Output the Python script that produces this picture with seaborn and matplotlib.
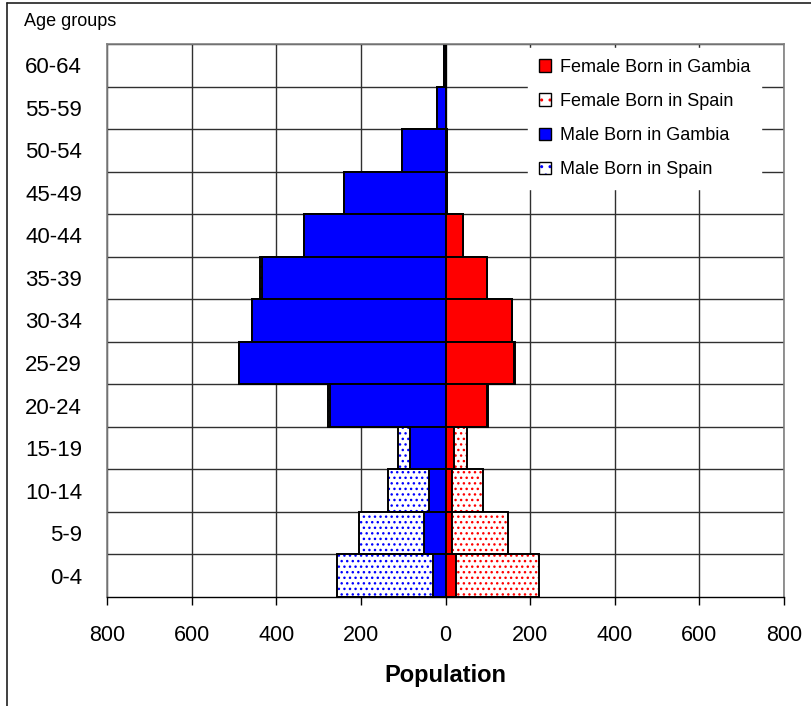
import matplotlib
matplotlib.use('Agg')
import matplotlib.pyplot as plt
import matplotlib.patches as mpatches
from matplotlib.legend_handler import HandlerTuple
from matplotlib.lines import Line2D
import numpy as np
import pandas as pd
import seaborn as sns

# Age groups, bottom to top
ages = ["0-4", "5-9", "10-14", "15-19", "20-24", "25-29", "30-34",
        "35-39", "40-44", "45-49", "50-54", "55-59", "60-64"]
male_gambia = [29, 50, 39, 84, 274, 487, 457, 434, 334, 240, 102, 20, 3]
male_spain = [227, 154, 97, 29, 3, 0, 0, 5, 0, 0, 0, 0, 0]
female_gambia = [25, 16, 16, 20, 99, 162, 157, 98, 41, 4, 4, 1, 2]
female_spain = [196, 132, 73, 30, 1, 3, 1, 0, 0, 0, 0, 0, 0]

x_ticks = [-800, -600, -400, -200, 0, 200, 400, 600, 800]

sns.set_style("white")
plt.rcParams['font.family'] = ['Liberation Sans', 'DejaVu Sans']
plt.rcParams['hatch.linewidth'] = 1.0
for key in ['text.color', 'axes.labelcolor', 'xtick.color', 'ytick.color']:
    plt.rcParams[key] = 'black'

df = pd.DataFrame({
    "age": ages,
    "male_gambia": -np.array(male_gambia),
    "male_total": -(np.array(male_gambia) + np.array(male_spain)),
    "female_gambia": np.array(female_gambia),
    "female_total": np.array(female_gambia) + np.array(female_spain),
})
order = ages[::-1]

fig = plt.figure(figsize=(8.11, 7.06), dpi=100)
ax = fig.add_axes([107 / 811, 109 / 706, 677 / 811, 553 / 706])

BLUE = "#0000ff"
RED = "#ff0000"
EDGE_LW = 1.4
HATCH = "..."


def bars(col, **kws):
    sns.barplot(data=df, x=col, y="age", order=order, orient="h", width=1,
                errorbar=None, saturation=1, ax=ax, **kws)


# stacked: total (born in Spain part, dotted) underneath, Gambia on top
for total_col, gam_col, c in [("male_total", "male_gambia", BLUE),
                              ("female_total", "female_gambia", RED)]:
    bars(total_col, color="white", edgecolor=c, linewidth=0, hatch=HATCH)
    bars(total_col, fill=False, color="black", linewidth=EDGE_LW)
    bars(gam_col, color=c, edgecolor="black", linewidth=EDGE_LW)

ax.set_xlim(-800, 800)
ax.set_ylim(len(ages) - 0.5, -0.5)
ax.set_xticks(x_ticks)
ax.set_xticklabels([str(abs(v)) for v in x_ticks], fontsize=15.5)
ax.set_yticks(np.arange(len(ages)) - 0.5, minor=True)
ax.set_yticks(np.arange(len(ages)))
ax.set_yticklabels(order, fontsize=16)
ax.tick_params(axis="x", which="major", direction="out", length=6,
               width=1, color="black", pad=14, bottom=True)
ax.tick_params(axis="y", which="both", length=0, pad=18)

ax.set_axisbelow(True)
ax.grid(False)
ax.xaxis.grid(True, which="major", color="#303030", linewidth=1)
ax.yaxis.grid(True, which="minor", color="#303030", linewidth=1)

for side in ["left", "top", "right"]:
    ax.spines[side].set_color("#808080")
    ax.spines[side].set_linewidth(1.2)
ax.spines["bottom"].set_color("black")
ax.spines["bottom"].set_linewidth(1)

ax.set_xlabel("Population", fontsize=17, fontweight="bold", labelpad=13)
ax.set_ylabel("")

fig.text(24 / 811, 1 - 22 / 706, "Age groups", fontsize=13, va="center", ha="left")

# legend
def legend_handle(c, dotted):
    if dotted:
        dots = mpatches.Patch(facecolor="white", edgecolor=c, linewidth=0, hatch="..")
        frame = mpatches.Patch(facecolor="none", edgecolor="black", linewidth=1)
        return (dots, frame)
    return mpatches.Patch(facecolor=c, edgecolor="black", linewidth=1)


handles = [legend_handle(RED, False), legend_handle(RED, True),
           legend_handle(BLUE, False), legend_handle(BLUE, True)]
labels = ["Female Born in Gambia", "Female Born in Spain",
          "Male Born in Gambia", "Male Born in Spain"]
leg = ax.legend(handles, labels, loc="upper left",
                bbox_to_anchor=((528 - 107) / 677, 1 - 4 / 553),
                borderaxespad=0, fontsize=13, handlelength=0.7,
                handleheight=0.7, handletextpad=0.45, labelspacing=0.95,
                borderpad=0.6, frameon=True, fancybox=False,
                handler_map={tuple: HandlerTuple(ndivide=1, pad=0)})
leg.get_frame().set_facecolor("white")
leg.get_frame().set_edgecolor("white")
leg.get_frame().set_alpha(1)

# chart-area border (left and top visible)
fig.add_artist(Line2D([7 / 811, 7 / 811], [0, 1 - 3 / 706], color="#202020", linewidth=1.2))
fig.add_artist(Line2D([7 / 811, 1], [1 - 3 / 706, 1 - 3 / 706], color="#202020", linewidth=1.2))

fig.savefig("out.png", dpi=100)
plt.close(fig)
